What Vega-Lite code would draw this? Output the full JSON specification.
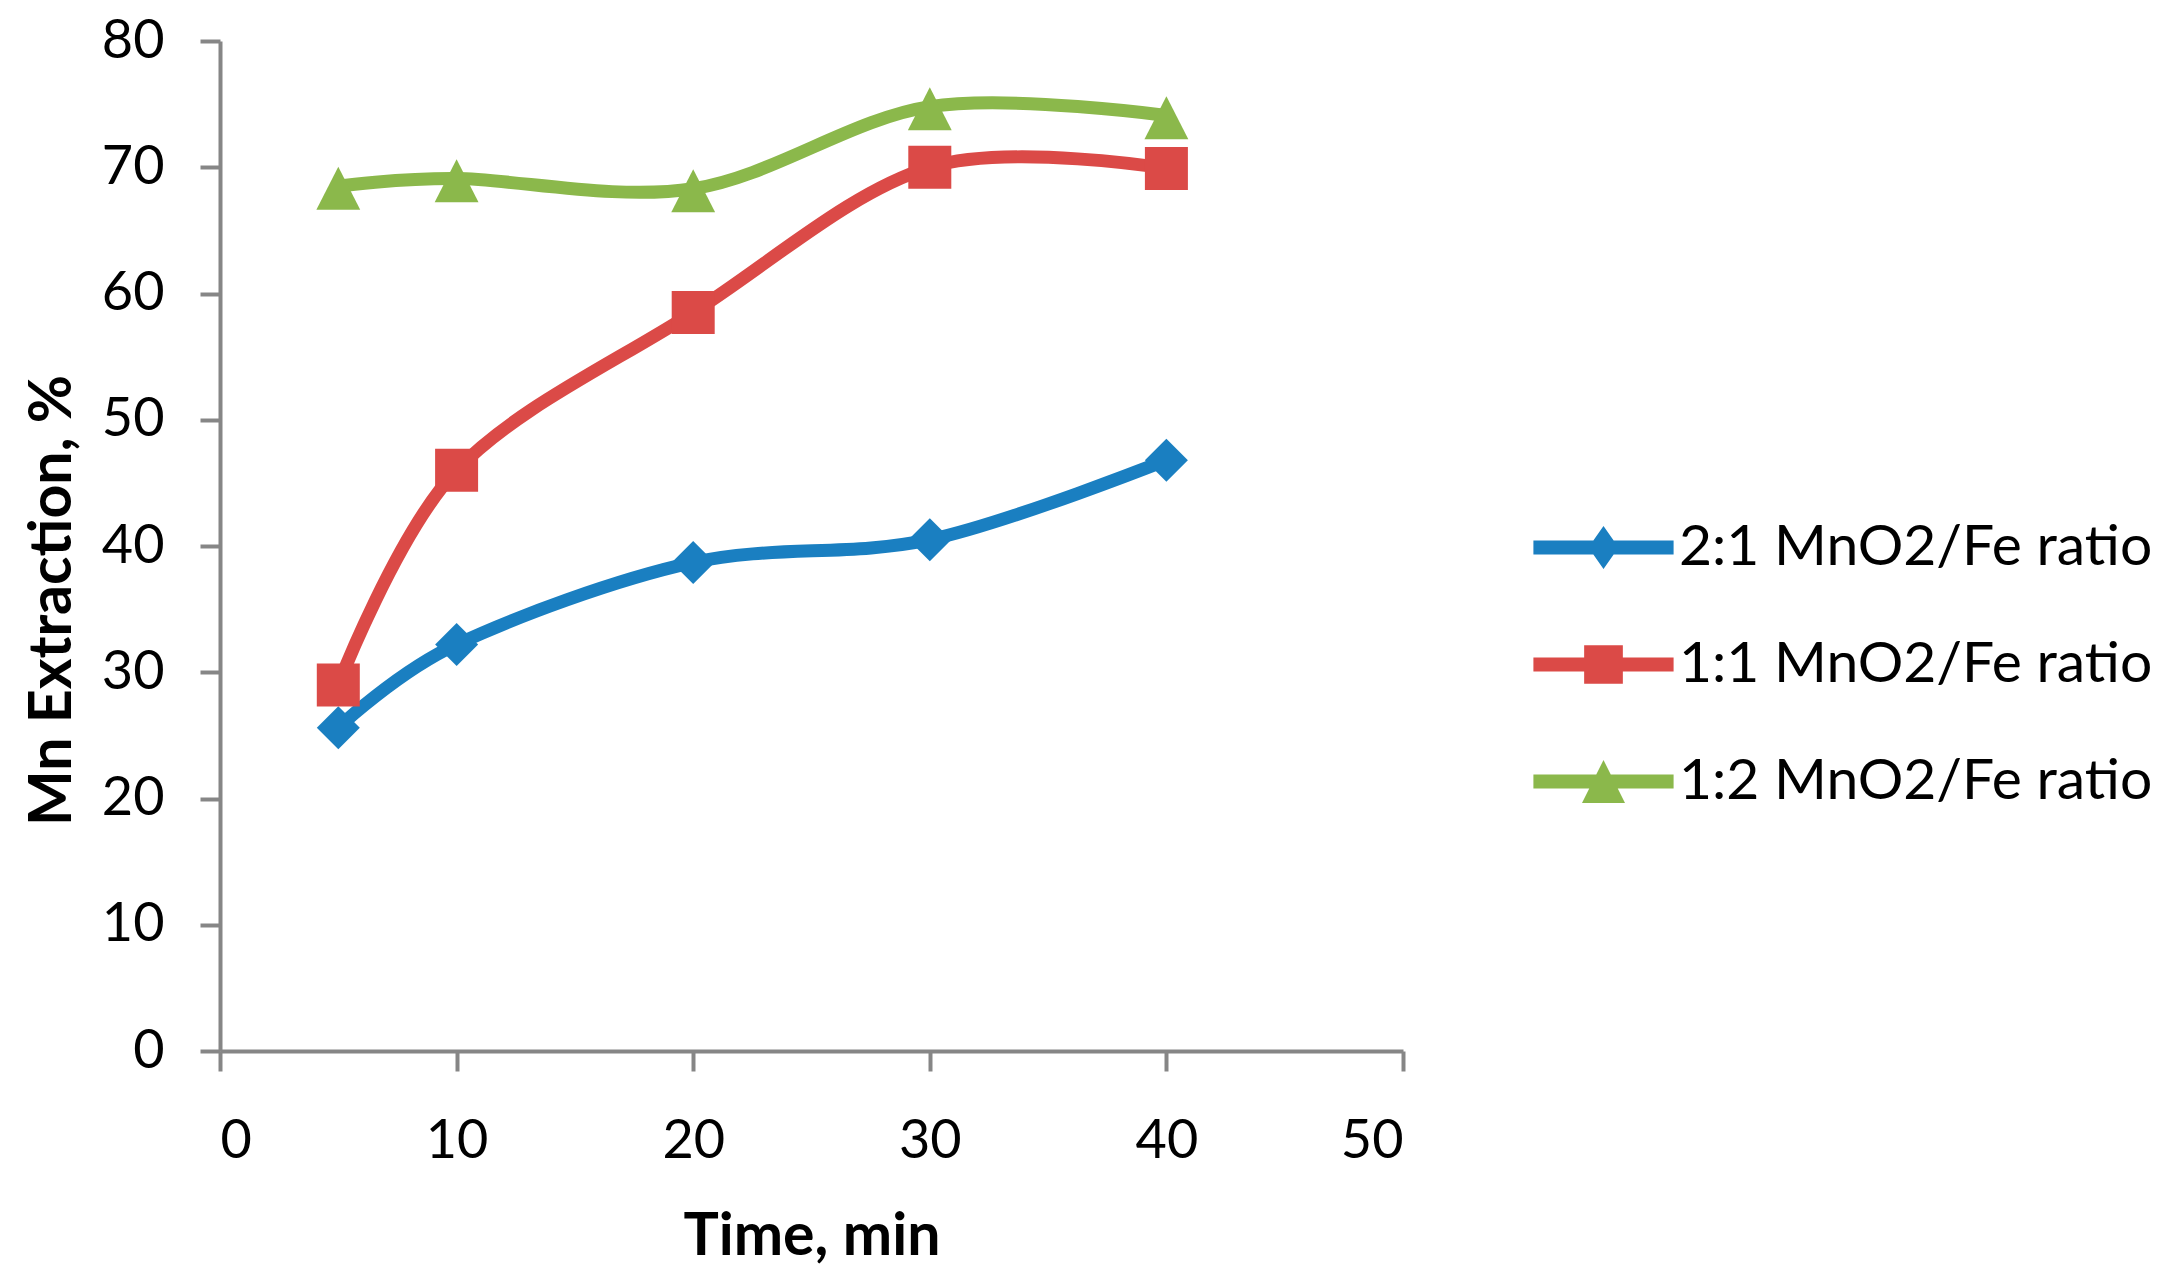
{
  "$schema": "https://vega.github.io/schema/vega-lite/v6.json",
  "autosize": "none",
  "width": 1183,
  "height": 1010,
  "padding": {"left": 220, "top": 41, "right": 774, "bottom": 228},
  "background": "white",
  "config": {
    "view": {"stroke": null},
    "font": "Lato",
    "axis": {
      "grid": false,
      "domainColor": "#868686",
      "domainWidth": 4,
      "tickColor": "#868686",
      "tickWidth": 4,
      "tickSize": 20,
      "labelFont": "Lato",
      "labelFontSize": 54,
      "labelColor": "black",
      "titleFont": "Lato",
      "titleFontSize": 59,
      "titleFontWeight": "bold",
      "titleColor": "black"
    }
  },
  "data": {
    "values": [
      {"time": 5, "mn": 25.6, "series": "2:1 MnO2/Fe ratio"},
      {"time": 10, "mn": 32.2, "series": "2:1 MnO2/Fe ratio"},
      {"time": 20, "mn": 38.7, "series": "2:1 MnO2/Fe ratio"},
      {"time": 30, "mn": 40.5, "series": "2:1 MnO2/Fe ratio"},
      {"time": 40, "mn": 46.8, "series": "2:1 MnO2/Fe ratio"},
      {"time": 5, "mn": 29.0, "series": "1:1 MnO2/Fe ratio"},
      {"time": 10, "mn": 46.0, "series": "1:1 MnO2/Fe ratio"},
      {"time": 20, "mn": 58.5, "series": "1:1 MnO2/Fe ratio"},
      {"time": 30, "mn": 70.0, "series": "1:1 MnO2/Fe ratio"},
      {"time": 40, "mn": 69.9, "series": "1:1 MnO2/Fe ratio"},
      {"time": 5, "mn": 68.5, "series": "1:2 MnO2/Fe ratio"},
      {"time": 10, "mn": 69.1, "series": "1:2 MnO2/Fe ratio"},
      {"time": 20, "mn": 68.3, "series": "1:2 MnO2/Fe ratio"},
      {"time": 30, "mn": 74.8, "series": "1:2 MnO2/Fe ratio"},
      {"time": 40, "mn": 74.1, "series": "1:2 MnO2/Fe ratio"}
    ]
  },
  "encoding": {
    "x": {
      "field": "time",
      "type": "quantitative",
      "scale": {"domain": [0, 50], "nice": false},
      "axis": {
        "values": [0, 10, 20, 30, 40, 50],
        "labelPadding": 43,
        "title": "Time, min",
        "titleBaseline": "alphabetic",
        "titleY": 203
      }
    },
    "y": {
      "field": "mn",
      "type": "quantitative",
      "scale": {"domain": [0, 80], "nice": false},
      "axis": {
        "values": [0, 10, 20, 30, 40, 50, 60, 70, 80],
        "labelPadding": 36,
        "title": "Mn Extraction, %",
        "titleAngle": -90,
        "titleAlign": "center",
        "titleBaseline": "alphabetic",
        "titleX": -150,
        "titleY": 559
      }
    }
  },
  "layer": [
    {
      "mark": {"type": "line", "interpolate": "cardinal", "tension": 0, "strokeWidth": 13, "strokeCap": "round"},
      "encoding": {
        "color": {
          "field": "series",
          "type": "nominal",
          "scale": {
            "domain": ["2:1 MnO2/Fe ratio", "1:1 MnO2/Fe ratio", "1:2 MnO2/Fe ratio"],
            "range": ["#1a7fc1", "#db4a47", "#8bb84b"]
          },
          "legend": null
        }
      }
    },
    {
      "mark": {"type": "point", "filled": true, "opacity": 1, "size": 1849},
      "encoding": {
        "color": {
          "field": "series",
          "type": "nominal",
          "scale": {
            "domain": ["2:1 MnO2/Fe ratio", "1:1 MnO2/Fe ratio", "1:2 MnO2/Fe ratio"],
            "range": ["#1a7fc1", "#db4a47", "#8bb84b"]
          },
          "legend": null
        },
        "shape": {
          "field": "series",
          "type": "nominal",
          "scale": {
            "domain": ["2:1 MnO2/Fe ratio", "1:1 MnO2/Fe ratio", "1:2 MnO2/Fe ratio"],
            "range": [
              "M0,-1L1,0L0,1L-1,0Z",
              "M-1,-1L1,-1L1,1L-1,1Z",
              "M0,-0.9L1.02,1.1L-1.02,1.1Z"
            ]
          },
          "legend": null
        }
      }
    },
    {
      "transform": [{"filter": "datum.time > 100"}],
      "mark": {"type": "point", "filled": true, "opacity": 1, "size": 1849},
      "encoding": {
        "color": {
          "field": "series",
          "type": "nominal",
          "scale": {
            "domain": ["2:1 MnO2/Fe ratio", "1:1 MnO2/Fe ratio", "1:2 MnO2/Fe ratio"],
            "range": ["#1a7fc1", "#db4a47", "#8bb84b"]
          },
          "legend": {
            "title": null,
            "orient": "none",
            "legendX": 1355,
            "legendY": 478,
            "padding": 0,
            "rowPadding": 59,
            "symbolSize": 1849,
            "symbolStrokeWidth": 0,
            "symbolOpacity": 1,
            "labelOffset": 47,
            "labelFont": "Lato",
            "labelFontSize": 57,
            "labelColor": "black",
            "labelLimit": 800
          }
        },
        "shape": {
          "field": "series",
          "type": "nominal",
          "scale": {
            "domain": ["2:1 MnO2/Fe ratio", "1:1 MnO2/Fe ratio", "1:2 MnO2/Fe ratio"],
            "range": [
              "M-3.26,-0.33L3.26,-0.33L3.26,0.33L-3.26,0.33Z M0,-1L0.7,0L0,1L-0.7,0Z",
              "M-3.26,-0.33L3.26,-0.33L3.26,0.33L-3.26,0.33Z M-0.9,-0.9L0.9,-0.9L0.9,0.9L-0.9,0.9Z",
              "M-3.26,-0.33L3.26,-0.33L3.26,0.33L-3.26,0.33Z M0,-1L1,1L-1,1Z"
            ]
          },
          "legend": {
            "title": null,
            "orient": "none",
            "legendX": 1355,
            "legendY": 478,
            "padding": 0,
            "rowPadding": 59,
            "symbolSize": 1849,
            "symbolStrokeWidth": 0,
            "symbolOpacity": 1,
            "labelOffset": 47,
            "labelFont": "Lato",
            "labelFontSize": 57,
            "labelColor": "black",
            "labelLimit": 800
          }
        }
      }
    }
  ],
  "resolve": {"scale": {"shape": "independent", "color": "independent"}}
}
